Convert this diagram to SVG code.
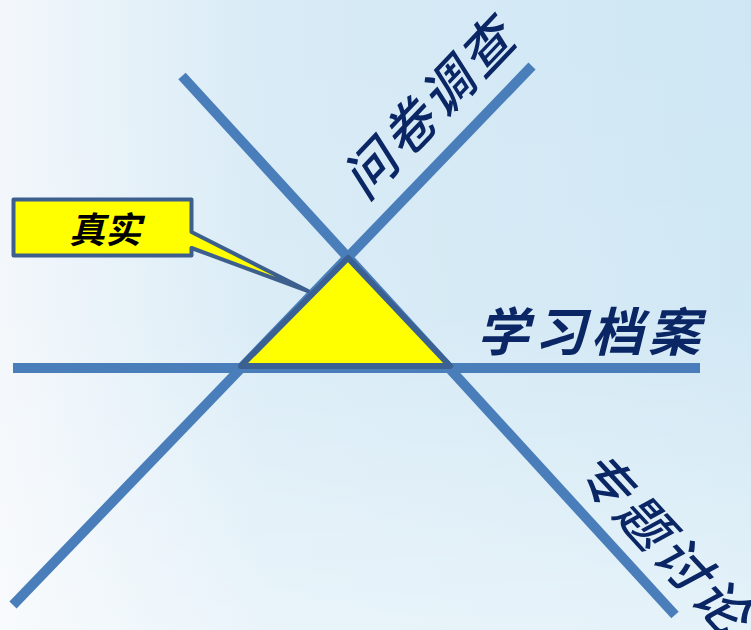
<svg xmlns="http://www.w3.org/2000/svg" width="751" height="630" viewBox="0 0 751 630">
<defs>
<linearGradient id="bgH" x1="0" y1="0" x2="1" y2="0">
<stop offset="0" stop-color="#F3F7FB"/>
<stop offset="0.35" stop-color="#D8EBF6"/>
<stop offset="1" stop-color="#CFE7F4"/>
</linearGradient>
<linearGradient id="bgV" x1="0" y1="0" x2="0" y2="1">
<stop offset="0" stop-color="#FFFFFF" stop-opacity="0"/>
<stop offset="0.5" stop-color="#FFFFFF" stop-opacity="0.05"/>
<stop offset="1" stop-color="#FFFFFF" stop-opacity="0.45"/>
</linearGradient>
<style>
.ln{stroke:#4A7EBB;stroke-width:10;fill:none}
.lbl{font-family:"Noto Sans CJK SC","Noto Sans",sans-serif;fill:#0B2664;font-style:italic}
</style>
</defs>
<rect width="751" height="630" fill="url(#bgH)"/>
<rect width="751" height="630" fill="url(#bgV)"/>
<g id="connectors">
<line class="ln" x1="13" y1="368" x2="700" y2="368"/>
<line class="ln" x1="182" y1="76" x2="675" y2="615"/>
<line class="ln" x1="532" y1="66" x2="13" y2="605"/>
</g>
<g id="triangle">
<polygon points="241,366 348,258 450,366" fill="#FFFF00" stroke="#3B6092" stroke-width="6" stroke-linejoin="round"/>
</g>
<g id="callout">
<path d="M13.5,199.5 H191.5 V232 L308,291 L191.5,248 V255.5 H13.5 Z" fill="#FFFF00" stroke="#3D5F8E" stroke-width="4" stroke-linejoin="round"/>
<text x="105" y="243" font-family="Noto Sans CJK SC,sans-serif" font-size="36" font-weight="bold" font-style="italic" text-anchor="middle" fill="#000000">真实</text>
</g>
<g id="label-wenjuan">
<text class="lbl" transform="translate(429.5,107.5) rotate(-46.4)" x="0" y="19" font-size="52" font-weight="500" letter-spacing="4" text-anchor="middle">问卷调查</text>
</g>
<g id="label-xuexi">
<text class="lbl" x="477" y="351" font-size="52" font-weight="bold" letter-spacing="5">学习档案</text>
</g>
<g id="label-zhuanti">
<text class="lbl" transform="translate(664.5,543.5) rotate(47.3)" x="0" y="19" font-size="52" font-weight="500" letter-spacing="5" text-anchor="middle">专题讨论</text>
</g>
</svg>
